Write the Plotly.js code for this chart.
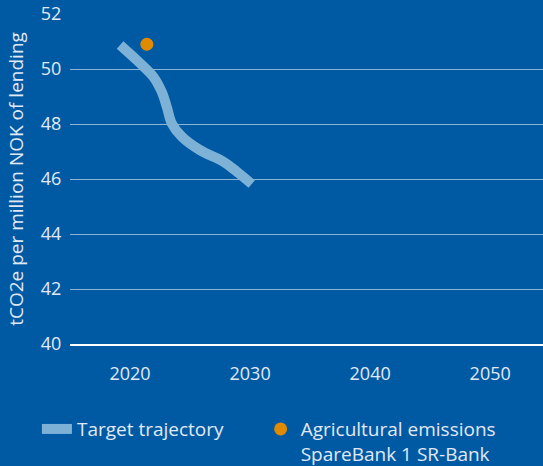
<!DOCTYPE html>
<html><head><meta charset="utf-8">
<script src="https://cdn.plot.ly/plotly-3.0.1.min.js"></script>
<style>html,body{margin:0;padding:0;background:#0059a3;}</style>
</head><body>
<div id="chart" style="width:543px;height:466px;"></div>
<script>
const targetYears = [2019.17, 2020.83, 2021.94, 2022.64, 2023.06, 2023.47, 2024.31, 2025.83, 2027.78, 2028.89, 2030.14];
const targetValues = [50.87, 50.21, 49.72, 49.17, 48.63, 48.03, 47.54, 47.05, 46.63, 46.27, 45.82];
const agriYears = [2021.4];
const agriValues = [50.9];
const xTicks = [2020, 2030, 2040, 2050];
const yTicks = [40, 42, 44, 46, 48, 50, 52];

const txt = 'rgb(225,233,245)';
const traces = [
  {x: targetYears, y: targetValues, mode: 'lines', name: 'Target trajectory', legend: 'legend',
   line: {color: '#7db2d6', width: 10, shape: 'spline', smoothing: 1.0}},
  {x: agriYears, y: agriValues, mode: 'markers', name: 'Agricultural emissions<br>SpareBank 1 SR-Bank', legend: 'legend2',
   marker: {color: '#e08a00', size: 13}}
];
const legendBase = {orientation: 'h', xref: 'container', xanchor: 'left', yref: 'container', y: 0.12, yanchor: 'top',
  valign: 'top', font: {size: 19, color: txt}, itemwidth: 30, bgcolor: 'rgba(0,0,0,0)'};
const layout = {
  width: 543, height: 466,
  paper_bgcolor: '#0059a3', plot_bgcolor: '#0059a3',
  margin: {l: 70, r: 0, t: 14, b: 122, autoexpand: false},
  font: {family: '"Open Sans", sans-serif', color: txt, size: 16},
  showlegend: true,
  legend: Object.assign({}, legendBase, {x: 0.068}),
  legend2: Object.assign({}, legendBase, {x: 0.48}),
  xaxis: {range: [2015, 2054.4], tickvals: xTicks, showgrid: false, zeroline: false, automargin: false,
          showline: true, linecolor: '#ffffff', linewidth: 2,
          ticks: 'outside', ticklen: 12, tickcolor: 'rgba(0,0,0,0)', tickfont: {size: 18, color: txt}},
  yaxis: {range: [40, 52], tickvals: yTicks, showgrid: true, gridcolor: 'rgba(255,255,255,0.55)', gridwidth: 1,
          zeroline: false, showline: false, automargin: false, ticks: 'outside', ticklen: 4, tickcolor: 'rgba(0,0,0,0)',
          tickfont: {size: 18, color: txt},
          title: {text: 'tCO2e per million NOK of lending', font: {size: 19, color: txt}, standoff: 12}}
};
Plotly.newPlot('chart', traces, layout, {displayModeBar: false});
</script>
</body></html>
